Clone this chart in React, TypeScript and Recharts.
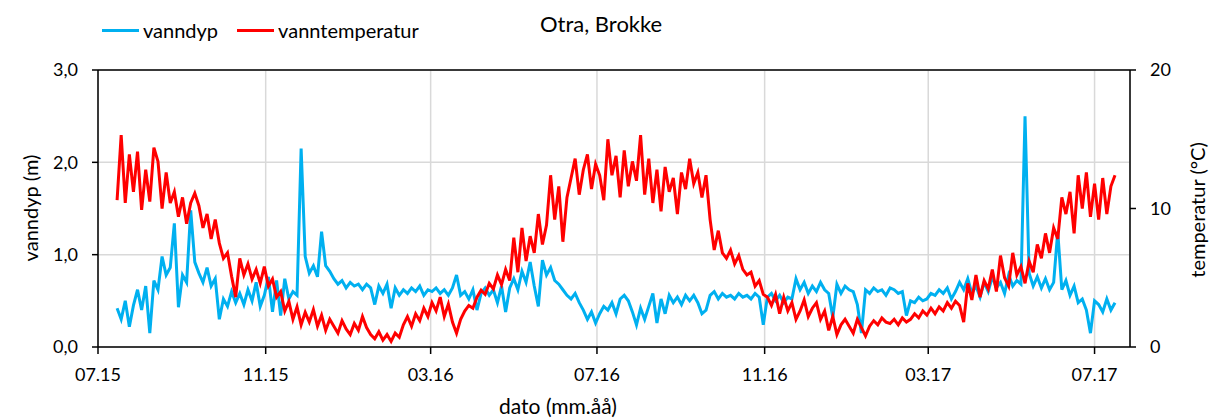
import React from 'react';
import {
  LineChart,
  Line,
  XAxis,
  YAxis,
  CartesianGrid,
  ReferenceLine,
} from 'recharts';

// days since 01.07.2015, one reading every 3rd day from 15.07.2015
const START_DAY = 14;
const STEP = 3;

const tickDays = [0, 123, 244, 366, 489, 609, 731];
const tickLabels = ['07.15', '11.15', '03.16', '07.16', '11.16', '03.17', '07.17'];

// vanndyp (m)
const depth = [
  0.42, 0.30, 0.50, 0.22, 0.45, 0.62, 0.40, 0.66, 0.15, 0.72,
  0.62, 0.98, 0.78, 0.86, 1.34, 0.43, 0.78, 0.70, 1.48, 0.92,
  0.80, 0.70, 0.86, 0.66, 0.74, 0.30, 0.52, 0.44, 0.60, 0.48,
  0.58, 0.46, 0.62, 0.50, 0.70, 0.44, 0.56, 0.76, 0.38, 0.72,
  0.34, 0.74, 0.52, 0.60, 0.56, 2.15, 0.98, 0.80, 0.88, 0.76,
  1.25, 0.88, 0.82, 0.74, 0.68, 0.72, 0.64, 0.70, 0.66, 0.68,
  0.62, 0.68, 0.64, 0.46, 0.66, 0.58, 0.68, 0.42, 0.64, 0.56,
  0.62, 0.58, 0.64, 0.60, 0.66, 0.56, 0.62, 0.60, 0.64, 0.58,
  0.62, 0.56, 0.64, 0.78, 0.56, 0.60, 0.52, 0.62, 0.40, 0.58,
  0.64, 0.56, 0.62, 0.48, 0.66, 0.38, 0.64, 0.74, 0.62, 0.82,
  0.70, 0.92, 0.66, 0.44, 0.94, 0.78, 0.86, 0.72, 0.68, 0.62,
  0.56, 0.52, 0.58, 0.48, 0.40, 0.30, 0.38, 0.26, 0.36, 0.44,
  0.40, 0.48, 0.36, 0.52, 0.56, 0.50, 0.38, 0.24, 0.42, 0.30,
  0.44, 0.58, 0.26, 0.52, 0.36, 0.56, 0.48, 0.54, 0.46, 0.56,
  0.50, 0.56, 0.48, 0.36, 0.40, 0.56, 0.60, 0.52, 0.58, 0.54,
  0.56, 0.52, 0.58, 0.54, 0.56, 0.52, 0.58, 0.54, 0.24, 0.54,
  0.58, 0.50, 0.56, 0.48, 0.54, 0.52, 0.74, 0.62, 0.70, 0.58,
  0.66, 0.60, 0.70, 0.62, 0.58, 0.32, 0.68, 0.58, 0.66, 0.62,
  0.60, 0.46, 0.15, 0.62, 0.58, 0.64, 0.60, 0.62, 0.56, 0.64,
  0.62, 0.58, 0.60, 0.34, 0.50, 0.48, 0.54, 0.50, 0.52, 0.58,
  0.56, 0.62, 0.58, 0.64, 0.52, 0.60, 0.70, 0.62, 0.74, 0.58,
  0.66, 0.54, 0.70, 0.60, 0.76, 0.64, 0.70, 0.58, 0.78, 0.66,
  0.72, 0.68, 2.50, 0.80, 0.66, 0.76, 0.64, 0.74, 0.62, 0.70,
  1.25, 0.62, 0.72, 0.56, 0.66, 0.48, 0.52, 0.40, 0.15, 0.50,
  0.46, 0.38, 0.52, 0.40, 0.48,
];

// vanntemperatur (°C)
const temp = [
  10.6, 15.3, 10.4, 13.9, 11.2, 14.1, 9.9, 12.8, 10.5, 14.4,
  13.4, 10.0, 12.6, 10.4, 11.2, 9.4, 10.8, 8.9, 10.4, 11.1,
  10.2, 8.6, 9.6, 7.8, 9.2, 7.5, 6.4, 6.8, 5.1, 3.6,
  6.4, 5.2, 6.0, 4.9, 5.6, 4.6, 5.8, 4.4, 4.9, 3.6,
  4.0, 2.6, 3.3, 2.0, 2.9, 1.6, 2.5, 1.8, 2.7, 1.5,
  2.3, 1.2, 2.0, 1.5, 1.0, 1.9, 1.3, 0.9, 1.7, 1.2,
  2.2, 1.4, 0.9, 0.6, 1.1, 0.5, 0.9, 0.4, 1.0, 0.7,
  1.6, 2.2, 1.5, 2.4, 1.9, 2.8, 2.2, 3.2, 2.6, 3.6,
  2.2, 3.1, 1.8, 1.0, 2.0, 2.6, 3.0, 2.8, 3.6, 4.1,
  3.8, 4.6, 4.2, 5.2, 4.5, 5.6, 4.8, 7.9, 5.4, 8.6,
  6.2, 8.0, 6.8, 9.6, 7.4, 8.8, 12.4, 9.2, 11.6, 7.6,
  10.8, 12.2, 13.6, 11.0, 12.8, 13.9, 11.4, 13.2, 12.4, 10.6,
  15.0, 12.4, 13.8, 10.8, 14.2, 11.6, 13.4, 12.0, 15.3, 11.0,
  13.6, 10.4, 12.8, 9.8, 13.0, 11.2, 12.2, 9.6, 12.6, 11.4,
  13.6, 11.8, 12.6, 10.8, 12.4, 9.2, 7.0, 8.4, 6.8, 6.4,
  7.0, 6.0, 6.6, 5.6, 5.2, 5.4, 4.4, 4.8, 3.8, 3.6,
  3.0, 3.8, 2.4, 3.6, 2.6, 3.2, 2.0, 2.6, 3.4, 2.2,
  2.8, 3.2, 2.0, 2.6, 1.2, 2.2, 0.9, 1.6, 2.0, 1.5,
  1.0, 2.0, 1.4, 0.8, 1.5, 1.9, 1.6, 2.1, 1.8, 1.7,
  2.0, 1.6, 2.1, 1.8, 2.0, 2.4, 2.1, 2.6, 2.3, 2.8,
  2.4, 2.9, 2.6, 3.2, 2.8, 3.3, 3.0, 1.8, 4.6, 3.4,
  5.2, 3.6, 4.8, 4.2, 5.6, 4.0, 6.6, 5.0, 4.4, 6.8,
  5.2, 5.8, 4.6, 6.2, 5.4, 7.4, 6.4, 8.2, 6.8, 8.6,
  7.8, 10.8, 9.6, 11.2, 8.2, 12.4, 10.0, 12.6, 9.4, 11.8,
  9.2, 12.2, 9.6, 11.6, 12.4,
];

const data = depth.map((d, i) => ({
  day: START_DAY + i * STEP,
  vanndyp: d,
  vanntemperatur: temp[i],
}));

const FONT = 'Lato, "Open Sans", sans-serif';
const BLUE = '#00b0f0';
const RED = '#ff0000';
const tickStyle = { fontSize: 18, fill: '#000', fontFamily: FONT };

export default function App() {
  return (
    <div style={{ position: 'absolute', left: 0, top: 0, width: 1212, height: 420, background: '#fff', fontFamily: FONT }}>
      <LineChart
        width={1212}
        height={420}
        data={data}
        margin={{ top: 70, right: 22, left: 38, bottom: 28 }}
      >
        <CartesianGrid yAxisId="left" stroke="#d9d9d9" strokeWidth={1.5} />
        <XAxis
          dataKey="day"
          type="number"
          domain={[0, 757]}
          ticks={tickDays}
          tickFormatter={(v: number) => tickLabels[tickDays.indexOf(v)]}
          height={45}
          tick={tickStyle}
          tickSize={7}
          tickMargin={14}
          stroke="#000"
          strokeWidth={1.5}
        />
        <YAxis
          yAxisId="left"
          domain={[0, 3]}
          ticks={[0, 1, 2, 3]}
          tickFormatter={(v: number) => v.toFixed(1).replace('.', ',')}
          width={60}
          tick={tickStyle}
          tickSize={6}
          tickMargin={14}
          stroke="#000"
          strokeWidth={1.5}
        />
        <YAxis
          yAxisId="right"
          orientation="right"
          domain={[0, 20]}
          ticks={[0, 10, 20]}
          width={60}
          tick={tickStyle}
          tickSize={6}
          tickMargin={14}
          stroke="#000"
          strokeWidth={1.5}
        />
        <ReferenceLine yAxisId="left" y={3} stroke="#000" strokeWidth={1.5} />
        <Line
          yAxisId="left"
          dataKey="vanndyp"
          stroke={BLUE}
          strokeWidth={3}
          dot={false}
          isAnimationActive={false}
        />
        <Line
          yAxisId="right"
          dataKey="vanntemperatur"
          stroke={RED}
          strokeWidth={3}
          dot={false}
          isAnimationActive={false}
        />
      </LineChart>

      {/* legend */}
      <div style={{ position: 'absolute', left: 102, top: 18, display: 'flex', alignItems: 'center', fontSize: 20, height: 24 }}>
        <span style={{ width: 37, height: 3, background: BLUE, display: 'inline-block', marginRight: 4 }} />
        <span>vanndyp</span>
        <span style={{ width: 37, height: 3, background: RED, display: 'inline-block', marginLeft: 19, marginRight: 4 }} />
        <span>vanntemperatur</span>
      </div>

      {/* title */}
      <div style={{ position: 'absolute', left: 540, top: 11, fontSize: 22, lineHeight: '26px' }}>Otra, Brokke</div>

      {/* axis titles */}
      <div style={{ position: 'absolute', left: 558, top: 405, transform: 'translate(-50%, -50%)', fontSize: 21, whiteSpace: 'nowrap' }}>
        dato (mm.åå)
      </div>
      <div style={{ position: 'absolute', left: 30, top: 208, transform: 'translate(-50%, -50%) rotate(-90deg)', fontSize: 20, whiteSpace: 'nowrap' }}>
        vanndyp (m)
      </div>
      <div style={{ position: 'absolute', left: 1197, top: 210, transform: 'translate(-50%, -50%) rotate(-90deg)', fontSize: 20, whiteSpace: 'nowrap' }}>
        temperatur (°C)
      </div>
    </div>
  );
}
